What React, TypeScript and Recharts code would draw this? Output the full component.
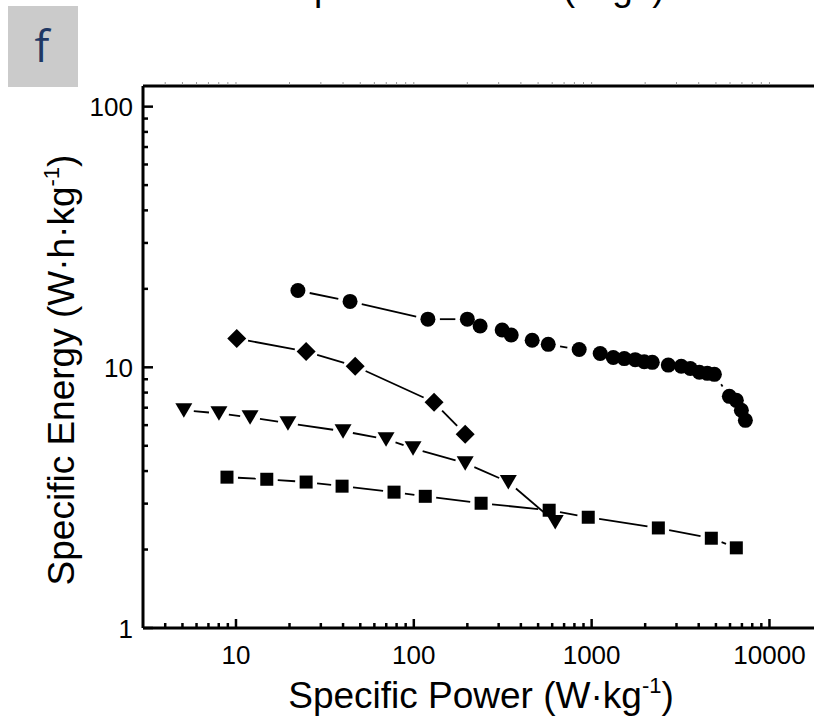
import React from 'react';
import { ScatterChart, Scatter, XAxis, YAxis } from 'recharts';

// ── Data (log–log Ragone plot) ───────────────────────────────────────────────
const circlePower = [22.3, 43.8, 120, 200, 236, 314, 353, 463, 570, 851, 1117, 1323, 1526, 1758, 1976, 2193, 2698, 3192, 3589, 4034, 4473, 4900, 5948, 6510, 6950, 7320];
const circleEnergy = [19.7, 17.9, 15.3, 15.3, 14.4, 13.9, 13.3, 12.7, 12.25, 11.7, 11.3, 10.9, 10.8, 10.7, 10.5, 10.45, 10.2, 10.1, 9.9, 9.57, 9.48, 9.4, 7.74, 7.47, 6.84, 6.26];

const diamondPower = [10.1, 24.8, 46.8, 130, 194.5];
const diamondEnergy = [12.9, 11.5, 10.1, 7.34, 5.54];

const trianglePower = [5.09, 8.02, 12.0, 19.6, 40, 69.8, 99, 194.5, 340, 624];
const triangleEnergy = [6.84, 6.66, 6.43, 6.1, 5.69, 5.3, 4.89, 4.29, 3.63, 2.55];

const squarePower = [8.9, 14.9, 24.8, 39.5, 77.4, 116, 239, 577, 957, 2372, 4710, 6510];
const squareEnergy = [3.79, 3.72, 3.63, 3.5, 3.32, 3.2, 3.01, 2.83, 2.66, 2.42, 2.21, 2.03];

// ── Ticks ─────────────────────────────────────────────────────────────────────
const X_MAJOR = [10, 100, 1000, 10000];
const X_MINOR = [4, 5, 6, 7, 8, 9, 20, 30, 40, 50, 60, 70, 80, 90, 200, 300, 400, 500, 600, 700, 800, 900, 2000, 3000, 4000, 5000, 6000, 7000, 8000, 9000];
const Y_MAJOR = [1, 10, 100];
const Y_MINOR = [2, 3, 4, 5, 6, 7, 8, 9, 20, 30, 40, 50, 60, 70, 80, 90];

const X_DOMAIN: [number, number] = [3, 20000];
const Y_DOMAIN: [number, number] = [1, 120];

const FONT = '"Liberation Sans", Arial, Helvetica, sans-serif';

function zip(xs: number[], ys: number[]) {
  return xs.map((x, i) => ({ x, y: ys[i] }));
}

const circles = zip(circlePower, circleEnergy);
const diamonds = zip(diamondPower, diamondEnergy);
const triangles = zip(trianglePower, triangleEnergy);
const squares = zip(squarePower, squareEnergy);

// ── Origin-style connecting line: segments stop short of each marker ─────────
const gappedLine = (gap: number) => (props: any) => {
  const pts = props.points || [];
  const segs: React.ReactNode[] = [];
  for (let i = 0; i < pts.length - 1; i++) {
    const a = pts[i];
    const b = pts[i + 1];
    const dx = b.x - a.x;
    const dy = b.y - a.y;
    const len = Math.hypot(dx, dy);
    if (len <= 2 * gap + 1) continue;
    const ux = dx / len;
    const uy = dy / len;
    segs.push(
      <line key={i} x1={a.x + ux * gap} y1={a.y + uy * gap} x2={b.x - ux * gap} y2={b.y - uy * gap}
        stroke="#000" strokeWidth={1.8} />
    );
  }
  return <g>{segs}</g>;
};

// ── Marker shapes ─────────────────────────────────────────────────────────────
const circleShape = (p: any) => <circle cx={p.cx} cy={p.cy} r={7.5} fill="#000" />;
const squareShape = (p: any) => <rect x={p.cx - 6.5} y={p.cy - 6.5} width={13} height={13} fill="#000" />;
const diamondShape = (p: any) => (
  <polygon points={`${p.cx},${p.cy - 9.5} ${p.cx + 9.5},${p.cy} ${p.cx},${p.cy + 9.5} ${p.cx - 9.5},${p.cy}`} fill="#000" />
);
const triangleShape = (p: any) => (
  <polygon points={`${p.cx - 8.5},${p.cy - 7} ${p.cx + 8.5},${p.cy - 7} ${p.cx},${p.cy + 7.5}`} fill="#000" />
);

// ── Custom ticks (inward tick marks, Origin style) ────────────────────────────
function BottomTick({ x, y, payload }: any) {
  const major = X_MAJOR.includes(payload.value);
  return (
    <g>
      <line x1={x} x2={x} y1={y} y2={y - (major ? 9 : 5)} stroke="#000" strokeWidth={2.5} />
      {major && (
        <text x={x} y={y + 36} textAnchor="middle" fontFamily={FONT} fontSize={26} fill="#000">
          {payload.value}
        </text>
      )}
    </g>
  );
}

function TopTick({ x, y }: any) {
  return <line x1={x} x2={x} y1={y - 1.5} y2={y - 4} stroke="#9a9a9a" strokeWidth={1} />;
}

function LeftTick({ x, y, payload }: any) {
  const major = Y_MAJOR.includes(payload.value);
  return (
    <g>
      <line x1={x} x2={x + (major ? 10 : 5)} y1={y} y2={y} stroke="#000" strokeWidth={2.5} />
      {major && (
        <text x={x - 10} y={y + 9.5} textAnchor="end" fontFamily={FONT} fontSize={26} fill="#000">
          {payload.value}
        </text>
      )}
    </g>
  );
}

export default function App() {
  const xTicks = [...X_MINOR, ...X_MAJOR].sort((a, b) => a - b);
  const yTicks = [...Y_MINOR, ...Y_MAJOR].sort((a, b) => a - b);

  return (
    <div style={{ position: 'absolute', left: 0, top: 0, width: 814, height: 720, overflow: 'hidden', background: '#fff' }}>
      <ScatterChart width={900} height={720} margin={{ top: 80, right: 77, bottom: 0, left: 0 }}>
        <XAxis
          xAxisId={0}
          type="number"
          dataKey="x"
          scale="log"
          domain={X_DOMAIN}
          allowDataOverflow
          ticks={xTicks}
          interval={0}
          height={92}
          tickSize={0}
          tickMargin={0}
          axisLine={{ stroke: '#000', strokeWidth: 3 }}
          tickLine={false}
          tick={<BottomTick />}
        />
        <XAxis
          xAxisId="top"
          orientation="top"
          type="number"
          dataKey="x"
          scale="log"
          domain={X_DOMAIN}
          allowDataOverflow
          ticks={xTicks}
          interval={0}
          height={6}
          tickSize={0}
          tickMargin={0}
          axisLine={{ stroke: '#000', strokeWidth: 3 }}
          tickLine={false}
          tick={<TopTick />}
        />
        <YAxis
          type="number"
          dataKey="y"
          scale="log"
          domain={Y_DOMAIN}
          allowDataOverflow
          ticks={yTicks}
          interval={0}
          width={143}
          tickSize={0}
          tickMargin={0}
          axisLine={{ stroke: '#000', strokeWidth: 3 }}
          tickLine={false}
          tick={<LeftTick />}
        />
        <Scatter data={squares} fill="#000" line={gappedLine(11)} lineType="joint" shape={squareShape} isAnimationActive={false} />
        <Scatter data={triangles} fill="#000" line={gappedLine(10)} lineType="joint" shape={triangleShape} isAnimationActive={false} />
        <Scatter data={diamonds} fill="#000" line={gappedLine(11.5)} lineType="joint" shape={diamondShape} isAnimationActive={false} />
        <Scatter data={circles} fill="#000" line={gappedLine(12)} lineType="joint" shape={circleShape} isAnimationActive={false} />
      </ScatterChart>

      {/* ── Titles, panel badge, cropped heading of the panel above ── */}
      <svg width={814} height={720} style={{ position: 'absolute', left: 0, top: 0, pointerEvents: 'none' }}>
        <text x={477} y={0} textAnchor="middle" fontFamily={FONT} fontSize={37} fill="#000">
          Specific Current (A·g<tspan fontSize={22} dy={-15}>-1</tspan><tspan dy={15}>)</tspan>
        </text>

        <rect x={8} y={6} width={70} height={81} fill="#cbcbcb" />
        <text x={42} y={62} textAnchor="middle" fontFamily='"Open Sans", Lato, sans-serif' fontSize={44} fill="#1f3864">
          f
        </text>

        <text x={481} y={708} textAnchor="middle" fontFamily={FONT} fontSize={37} fill="#000">
          Specific Power (W·kg<tspan fontSize={22} dy={-15}>-1</tspan><tspan dy={15}>)</tspan>
        </text>

        <text transform="translate(74,370) rotate(-90)" textAnchor="middle" fontFamily={FONT} fontSize={37} fill="#000">
          Specific Energy (W·h·kg<tspan fontSize={22} dy={-15}>-1</tspan><tspan dy={15}>)</tspan>
        </text>
      </svg>
    </div>
  );
}
